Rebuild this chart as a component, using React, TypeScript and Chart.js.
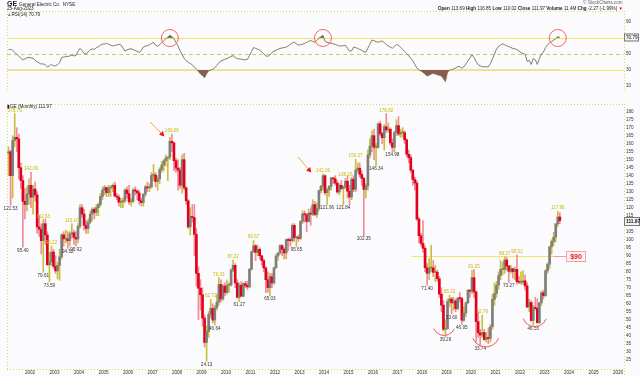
import React, { useEffect, useRef } from 'react';
import { Chart, registerables } from 'chart.js';

Chart.register(...registerables);

const FONT = '"Liberation Sans", Arial, sans-serif';
const FRAME = '#e4da4c';
const BG = '#fbfbfd';

// ---- data (monthly, Feb 2001 .. Aug 2023) ----
const START_YEAR = 2001;
const START_MONTH = 2;
const firstOpen = 154;

const closes = [
  155, 140, 162, 164, 163, 145, 137, 124, 122, 128.6, 134,
  126.6, 131.6, 128, 108, 106.5, 99.4, 110, 103, 84.3, 86.2, 92.3, 83.4,
  80.5, 84, 89.3, 103, 100.5, 100.5, 99.4, 103.6, 104.3, 101.5, 100.4, 108.4,
  120, 116, 109, 107, 111, 116, 119, 117, 120, 122, 127, 131,
  132.6, 129.4, 132.3, 132.8, 134, 127.3, 126.6, 123.4, 123.6, 124.4, 131, 128.8,
  123.6, 124, 131.1, 130.4, 129.2, 124.3, 123.2, 128.4, 133, 132.4, 133.1, 140.3,
  140.4, 136.3, 138, 143.8, 146.6, 149.3, 151, 151.6, 161.5, 160.5, 149.4, 144.7,
  143.4, 134, 150, 132.4, 124.3, 108, 114.5, 113.8, 103.3, 79, 69.7, 65.6,
  51, 35.8, 42.6, 53.2, 57, 49.8, 57.4, 61, 72, 63, 71, 67,
  71.6, 71.7, 81, 84, 73, 64, 71.6, 64.7, 72.6, 71.4, 70.5, 81.5,
  92.5, 96.2, 92, 94, 90, 87, 82.4, 75, 70, 76.9, 73, 82.4,
  89.8, 91.7, 96.3, 94, 91.7, 100, 99.5, 99.4, 109, 101.3, 101.5, 100.8,
  111.4, 116, 115.6, 111.4, 116.6, 116, 121.9, 115.7, 119.5, 130.7, 133.4, 140,
  129.4, 131.3, 133.3, 138.5, 138, 135.4, 129.8, 134, 132, 133, 136.6, 130.3,
  126.7, 137.8, 131.5, 143.5, 144.7, 140.8, 138.3, 131.4, 133.6, 153, 158.5, 165,
  157.7, 157.7, 172.4, 166.4, 163.7, 170.6, 168.6, 169, 160.5, 157.7, 167, 171.3,
  166, 166.9, 166.9, 162.4, 153.4, 151.3, 143.4, 137.6, 135.4, 112.9, 102.5, 97.7,
  94.6, 82.5, 79, 82.3, 82.4, 79.6, 79.7, 75.6, 66, 59.1, 44, 44.5,
  61.4, 62.9, 60.5, 61.7, 56.9, 63.5, 63.2, 49.7, 54.2, 60.6, 68.4, 67.8,
  76.3, 67.3, 48.8, 41.8, 40.4, 42, 37.6, 39, 38.3, 45.6, 62.7, 66.4,
  71.6, 77.6, 81.4, 81.4, 87.3, 83.6, 80.2, 81.9, 80, 81.5, 73.8, 73.4,
  73.4, 74.3, 71.1, 58, 60.8, 49.5, 57.5, 57.1, 48.1, 60.5, 66.8, 65.1,
  80.5, 84.7, 95.6, 98.9, 101.6, 109.9, 114.2, 111.97,
];

const highs = [
  158, 156, 165, 178.8, 170, 166, 148, 140, 132, 133, 138,
  142.1, 134, 136, 130, 115, 110, 112.6, 113, 105, 92, 96.2, 94,
  90, 86, 94, 104, 105, 106, 105, 105, 110.1, 106, 105, 110,
  122, 122, 119, 112, 113, 118, 120, 120, 122, 123, 129, 133,
  134, 133, 134, 134, 135, 136, 129, 128, 126, 126, 132, 133,
  134, 126, 132, 133, 131, 131, 126, 129, 134, 136, 135, 142,
  147, 142, 140, 145, 149, 150, 153, 152, 164, 166, 161, 151,
  150, 145, 153, 154, 133, 125, 120, 122, 122, 107, 83, 75,
  70, 53, 46, 55, 62.7, 60, 59, 66, 76.3, 75, 72, 73,
  75, 73, 82, 87.2, 85, 75, 73, 74, 73, 74, 74, 82,
  93, 99.5, 97, 96.5, 95, 90, 88, 83, 80, 79, 79, 83,
  91, 92, 97, 97, 95, 100.5, 101, 101, 110, 110, 102, 103,
  112, 118, 118, 116.5, 119, 120, 125, 124, 123, 131, 134, 141,
  140.5, 132, 134, 139, 139, 140, 137, 135, 137, 133.5, 138.3, 139.8,
  134, 139, 140, 150.3, 148, 148, 143, 139, 135, 156, 163, 168,
  169, 160, 173, 174, 167, 172, 178.8, 173, 170, 163, 168, 175,
  177, 169, 170, 168, 163, 156, 153, 144, 139, 137, 114, 104,
  112, 96, 85, 88, 96.6, 87, 84, 81, 77, 70, 62, 50,
  63, 65.2, 64, 64, 63, 64, 67, 64, 58, 61, 69, 69,
  80.9, 81.3, 68, 55, 44, 52.8, 44, 42, 45, 47, 66, 73,
  74, 80, 87, 86, 89.4, 89, 84, 84, 82, 83, 90.5, 77,
  80, 80.5, 78, 73, 63, 62, 59, 64, 63, 61, 68, 68.5,
  81.4, 85.6, 96, 100, 104.6, 110.1, 117.9, 116.85,
];

const lows = [
  140, 121.5, 126, 158, 155, 138, 132, 95.4, 113, 118, 122,
  120, 116, 124, 104, 102, 91, 79.6, 97, 84, 73.6, 84, 82,
  79, 75.5, 74.6, 88, 96, 98, 94.5, 96, 101, 97, 95.9, 98,
  107, 114, 106, 104, 104, 110, 112, 113, 115, 115, 121, 125,
  128, 127, 127, 127, 130, 127, 125, 121, 120, 120, 123, 126,
  122, 121, 123, 128, 125, 122, 121, 121, 127, 130, 130, 132,
  137, 133, 131, 135, 142, 143, 146, 137, 150, 155, 143, 142,
  131, 132, 129, 131, 122, 107, 103, 111, 90, 71, 50, 56,
  46, 33, 24.1, 39, 51, 48, 46.6, 56, 59, 61, 62, 65,
  66, 67, 71, 80, 70, 63.5, 61.3, 64.5, 64.2, 70, 69, 70,
  81, 92, 87, 90, 88, 84, 80, 67, 67, 65, 70, 72,
  82, 87, 91, 90, 88, 88, 93, 96, 98.5, 99, 95.6, 99,
  100, 110, 111, 105, 111, 109, 115, 115, 114, 118, 129, 131,
  128, 122, 127, 131, 135, 134, 129, 128, 131, 121.8, 132, 126,
  122, 125, 130, 130, 142, 139, 134, 102.4, 126, 131, 151, 155,
  150, 146.3, 157, 165, 160, 156, 167, 167, 159, 155, 155, 165,
  165, 164, 164, 160, 152, 148, 142, 134, 131, 112, 98, 96,
  92, 80, 71.4, 75, 80, 77, 74, 74, 64, 55, 43, 39.3,
  44, 58, 53.6, 56, 55, 56, 61, 47, 49, 52, 60, 64,
  66.5, 64, 36, 39, 33.7, 39, 37, 36, 35, 36, 44, 59,
  64, 69, 75, 78, 79, 81, 73.3, 79, 76, 75, 72, 72.5,
  72, 72, 68.5, 57.5, 55, 49, 46.5, 56, 48, 47.5, 59, 63,
  64.5, 79, 82, 91, 96.4, 98.6, 108, 110.02,
];

const rsi14 = [
  55.4, 55.7, 54.6, 52.1, 49.5, 47.1, 44.7, 42.3, 43.6, 45.2, 45.6,
  45.0, 44.3, 42.1, 40.0, 38.5, 37.1, 37.5, 36.0, 33.5, 34.8, 36.8, 34.9,
  35.0, 36.5, 38.8, 45.6, 46.0, 46.5, 46.7, 47.4, 48.5, 47.5, 47.8, 53.0,
  57.0, 54.0, 50.4, 49.8, 52.5, 55.3, 56.4, 55.8, 57.8, 58.9, 60.8, 62.4,
  62.3, 63.3, 62.0, 61.0, 59.9, 60.5, 61.3, 62.0, 61.3, 57.4, 53.5, 55.0,
  56.0, 56.5, 55.4, 54.3, 53.2, 52.0, 54.2, 58.7, 59.6, 60.4, 61.5, 63.0,
  64.4, 61.0, 59.5, 61.8, 64.2, 66.5, 68.9, 71.2, 73.5, 71.9, 69.1, 64.5,
  60.0, 53.8, 49.0, 44.5, 41.4, 39.4, 37.9, 36.2, 33.5, 30.7, 27.7, 24.7,
  22.5, 20.0, 25.1, 28.7, 29.8, 30.6, 32.5, 35.4, 38.9, 41.0, 42.1, 43.4,
  44.1, 45.6, 46.8, 47.8, 45.5, 44.1, 43.7, 43.3, 42.9, 42.5, 43.1, 47.9,
  53.0, 57.9, 57.0, 55.9, 54.8, 52.6, 50.0, 47.5, 46.9, 48.8, 51.6, 53.4,
  54.6, 55.7, 56.9, 57.4, 58.0, 58.6, 60.1, 62.0, 63.9, 64.6, 62.8, 61.0,
  61.5, 62.2, 63.1, 64.5, 65.8, 66.9, 65.6, 64.8, 66.8, 70.0, 71.5, 73.5,
  66.0, 64.4, 63.9, 63.4, 62.7, 61.8, 60.9, 59.9, 59.9, 60.4, 60.8, 57.3,
  53.4, 53.7, 58.5, 57.9, 56.8, 55.6, 54.5, 52.8, 52.2, 57.2, 62.5, 67.4,
  66.8, 65.3, 64.7, 65.5, 66.3, 64.2, 61.9, 60.0, 58.5, 57.1, 59.4, 61.6,
  61.0, 58.3, 55.6, 53.0, 50.5, 47.5, 44.6, 41.3, 36.7, 32.2, 30.0, 28.4,
  26.7, 24.5, 22.1, 23.1, 24.6, 25.3, 24.6, 23.7, 23.0, 22.2, 18.5, 15.2,
  27.0, 29.4, 30.2, 31.0, 32.3, 33.9, 34.0, 31.8, 33.7, 37.4, 41.1, 45.0,
  48.7, 45.5, 40.3, 36.3, 35.1, 33.8, 33.7, 33.7, 33.7, 37.7, 43.8, 49.7,
  56.0, 59.6, 61.1, 62.6, 61.4, 60.2, 59.1, 58.0, 56.9, 56.2, 55.5, 53.7,
  51.5, 50.5, 49.6, 40.5, 42.0, 36.7, 44.1, 42.5, 36.7, 44.5, 49.5, 52.5,
  58.0, 61.5, 64.0, 65.7, 67.3, 69.1, 71.5, 70.79,
];

const yearTicks = [2002, 2003, 2004, 2005, 2006, 2007, 2008, 2009, 2010, 2011, 2012, 2013, 2014,
  2015, 2016, 2017, 2018, 2019, 2020, 2021, 2022, 2023, 2024, 2025, 2026];
const priceTicks = [25, 30, 35, 40, 45, 50, 55, 60, 65, 70, 75, 80, 85, 90, 95, 100, 105, 110,
  115, 120, 125, 130, 135, 140, 145, 150, 155, 160, 165, 170, 175, 180];
const rsiTicks = [10, 30, 50, 70, 90];
const rsiLevels = [30, 50, 70];
const lastClose = 111.97;
const lastRsi = 70.79;

const highLabels: [string, string][] = [
  ['2001-05', '178.79'], ['2002-01', '142.09'], ['2002-07', '112.63'], ['2002-11', '96.22'],
  ['2003-09', '110.10'], ['2007-10', '166.06'], ['2009-05', '62.72'], ['2009-09', '76.33'],
  ['2010-04', '87.22'], ['2011-02', '99.57'], ['2013-12', '141.06'], ['2014-11', '138.26'],
  ['2015-04', '150.27'], ['2016-07', '178.82'], ['2019-02', '65.22'], ['2020-02', '81.25'],
  ['2020-06', '52.76'], ['2021-05', '89.37'], ['2021-11', '90.52'], ['2023-07', '117.96'],
];
const lowLabels: [string, string][] = [
  ['2001-03', '121.53'], ['2001-09', '95.40'], ['2002-07', '79.61'], ['2002-10', '73.59'],
  ['2003-07', '94.52'], ['2003-11', '95.92'], ['2009-03', '24.13'], ['2009-07', '46.64'],
  ['2010-07', '61.27'], ['2011-10', '65.03'], ['2012-11', '95.65'], ['2014-02', '121.96'],
  ['2014-10', '121.84'], ['2015-08', '102.35'], ['2016-02', '146.34'], ['2016-10', '154.98'],
  ['2018-03', '71.40'], ['2018-12', '39.26'], ['2019-03', '53.60'], ['2019-08', '46.95'],
  ['2020-05', '33.74'], ['2021-07', '73.27'], ['2022-07', '46.55'],
];

// support line ($90) and annotations in data units (year, price)
const supportLevel = 90;
const supportFrom = 2017.6;
const supportTo = 2023.35;
const supportBoxAt = 2023.88;
const arrows: [number, number, number, number][] = [
  [2006.9, 173.6, 2007.43, 165.4],
  [2012.94, 151.7, 2013.43, 142.9],
];
const lowArcs: [number, number, number][] = [
  [2018.9, 47, 11],
  [2020.6, 41.7, 14],
  [2022.6, 53.5, 12.5],
];
const rsiCircles = ['2007-09', '2013-12', '2023-07'];

const X_MIN = 2001.061;
const X_MAX = 2026.245;

const xOf = (i: number) => START_YEAR + (START_MONTH - 1 + i) / 12 + 1 / 24;
const idx = (ym: string) => {
  const [y, m] = ym.split('-').map(Number);
  return (y - START_YEAR) * 12 + (m - 1) - (START_MONTH - 1);
};

const tickFont = { size: 4.6, family: FONT };

function xScale(display: boolean) {
  return {
    type: 'linear',
    min: X_MIN,
    max: X_MAX,
    offset: false,
    display,
    grid: { display: false, drawTicks: false },
    border: { display: false },
    afterBuildTicks: (s: any) => { s.ticks = yearTicks.map((v) => ({ value: v })); },
    afterFit: (s: any) => { s.height = 7; },
    ticks: {
      font: tickFont, color: '#333', padding: 1, maxRotation: 0, autoSkip: false,
      callback: (v: any) => String(v),
    },
  };
}

function seg(ctx: any, x1: number, y1: number, x2: number, y2: number) {
  ctx.beginPath();
  ctx.moveTo(x1, y1);
  ctx.lineTo(x2, y2);
  ctx.stroke();
}

const priceOverlay = {
  id: 'priceOverlay',
  beforeDatasetsDraw(chart: any) {
    const { ctx, chartArea: a, scales: { x, y } } = chart;
    ctx.save();
    ctx.strokeStyle = FRAME;
    ctx.lineWidth = 1;
    ctx.setLineDash([1, 2]);
    seg(ctx, a.left, a.top + 0.5, a.right, a.top + 0.5);
    seg(ctx, a.left + 0.5, a.top, a.left + 0.5, a.bottom);
    seg(ctx, a.right + 0.5, a.top, a.right + 0.5, a.bottom + 7);
    seg(ctx, a.left, a.bottom + 0.5, a.right, a.bottom + 0.5);
    const sy = Math.round(y.getPixelForValue(supportLevel)) + 0.5;
    ctx.setLineDash([]);
    ctx.strokeStyle = '#efe56a';
    seg(ctx, x.getPixelForValue(supportFrom), sy, x.getPixelForValue(supportTo), sy);
    ctx.restore();
  },
  afterDatasetsDraw(chart: any) {
    const { ctx, scales: { x, y } } = chart;
    ctx.save();
    const sy = Math.round(y.getPixelForValue(supportLevel)) + 0.5;
    const bx = x.getPixelForValue(supportBoxAt);
    ctx.strokeStyle = '#f2a0a8';
    ctx.lineWidth = 1;
    seg(ctx, x.getPixelForValue(supportTo), sy, bx, sy);
    ctx.fillStyle = '#fff6f4';
    ctx.fillRect(bx, sy - 5, 19, 10);
    ctx.strokeRect(bx + 0.5, sy - 5, 19, 10);
    ctx.fillStyle = '#e3192b';
    ctx.font = `bold 7px ${FONT}`;
    ctx.textAlign = 'center';
    ctx.textBaseline = 'middle';
    ctx.fillText('$90', bx + 10, sy + 0.5);

    ctx.font = `4.6px ${FONT}`;
    ctx.textAlign = 'center';
    ctx.textBaseline = 'bottom';
    ctx.fillStyle = '#c9b800';
    for (const [ym, text] of highLabels) {
      const i = idx(ym);
      ctx.fillText(text, x.getPixelForValue(xOf(i)), y.getPixelForValue(highs[i]) - 1);
    }
    ctx.textBaseline = 'top';
    ctx.fillStyle = '#333';
    for (const [ym, text] of lowLabels) {
      const i = idx(ym);
      ctx.fillText(text, x.getPixelForValue(xOf(i)), y.getPixelForValue(lows[i]) + 1);
    }

    for (const [t1, v1, t2, v2] of arrows) {
      const x1 = x.getPixelForValue(t1), y1 = y.getPixelForValue(v1);
      const x2 = x.getPixelForValue(t2), y2 = y.getPixelForValue(v2);
      ctx.strokeStyle = '#f3a640';
      ctx.lineWidth = 1;
      seg(ctx, x1, y1, x2, y2);
      const ang = Math.atan2(y2 - y1, x2 - x1);
      ctx.fillStyle = '#e8141c';
      ctx.beginPath();
      ctx.moveTo(x2 + Math.cos(ang) * 2, y2 + Math.sin(ang) * 2);
      ctx.lineTo(x2 + Math.cos(ang + 2.4) * 4, y2 + Math.sin(ang + 2.4) * 4);
      ctx.lineTo(x2 + Math.cos(ang - 2.4) * 4, y2 + Math.sin(ang - 2.4) * 4);
      ctx.closePath();
      ctx.fill();
    }

    ctx.strokeStyle = '#ef5a5a';
    ctx.lineWidth = 1;
    for (const [t, v, r] of lowArcs) {
      ctx.beginPath();
      ctx.arc(x.getPixelForValue(t), y.getPixelForValue(v), r, 0.12 * Math.PI, 0.88 * Math.PI);
      ctx.stroke();
    }
    ctx.restore();
  },
  afterDraw(chart: any) {
    const { ctx, chartArea: a, scales: { y } } = chart;
    const py = Math.round(y.getPixelForValue(lastClose));
    ctx.save();
    ctx.fillStyle = '#f2f2f2';
    ctx.fillRect(a.right, py - 4, 16, 9);
    ctx.strokeStyle = '#777';
    ctx.lineWidth = 1;
    ctx.strokeRect(a.right + 0.5, py - 3.5, 15, 8);
    ctx.fillStyle = '#111';
    ctx.font = `bold 4.8px ${FONT}`;
    ctx.textAlign = 'left';
    ctx.textBaseline = 'middle';
    ctx.fillText(String(lastClose), a.right + 2, py + 0.5);
    ctx.restore();
  },
};

const rsiOverlay = {
  id: 'rsiOverlay',
  beforeDatasetsDraw(chart: any) {
    const { ctx, chartArea: a, scales: { y } } = chart;
    ctx.save();
    ctx.strokeStyle = FRAME;
    ctx.lineWidth = 1;
    ctx.setLineDash([1, 2]);
    seg(ctx, a.left, a.top + 0.5, a.right, a.top + 0.5);
    seg(ctx, a.left + 0.5, a.top, a.left + 0.5, a.bottom);
    seg(ctx, a.right + 0.5, a.top, a.right + 0.5, a.bottom);
    for (const lv of rsiLevels) {
      const py = Math.round(y.getPixelForValue(lv)) + 0.5;
      if (lv === 50) {
        ctx.setLineDash([4, 3]);
        ctx.strokeStyle = '#d6c84a';
      } else {
        ctx.setLineDash([]);
        ctx.strokeStyle = '#f0e66e';
      }
      seg(ctx, a.left, py, a.right, py);
    }
    ctx.restore();
  },
  afterDatasetsDraw(chart: any) {
    const { ctx, scales: { x, y } } = chart;
    ctx.save();
    ctx.strokeStyle = '#f26a5a';
    ctx.lineWidth = 1;
    for (const ym of rsiCircles) {
      ctx.beginPath();
      ctx.arc(x.getPixelForValue(xOf(idx(ym))), y.getPixelForValue(70), 8.5, 0, Math.PI * 2);
      ctx.stroke();
    }
    ctx.restore();
  },
  afterDraw(chart: any) {
    const { ctx, chartArea: a, scales: { y } } = chart;
    const py = Math.round(y.getPixelForValue(lastRsi));
    ctx.save();
    ctx.fillStyle = '#f2f2f2';
    ctx.fillRect(a.right, py - 3.5, 15, 8);
    ctx.strokeStyle = '#777';
    ctx.lineWidth = 1;
    ctx.strokeRect(a.right + 0.5, py - 3, 14, 7);
    ctx.fillStyle = '#111';
    ctx.font = `4.6px ${FONT}`;
    ctx.textAlign = 'left';
    ctx.textBaseline = 'middle';
    ctx.fillText(String(lastRsi), a.right + 2, py + 0.5);
    ctx.restore();
  },
};

export default function App() {
  const rsiRef = useRef<HTMLCanvasElement>(null);
  const priceRef = useRef<HTMLCanvasElement>(null);

  useEffect(() => {
    const opens = closes.map((c, i) => (i === 0 ? firstOpen : closes[i - 1]));
    const up = closes.map((c, i) => c >= opens[i]);
    const wickData = closes.map((c, i) => ({ x: xOf(i), y: [lows[i], highs[i]] }));
    const bodyData = closes.map((c, i) => ({ x: xOf(i), y: [opens[i], c] }));
    const rsiData = rsi14.map((v, i) => ({ x: xOf(i), y: v }));

    const rsiChart = new Chart(rsiRef.current as HTMLCanvasElement, {
      type: 'line',
      data: {
        datasets: [
          {
            data: rsiData,
            borderColor: '#7d7d68',
            borderWidth: 1,
            pointRadius: 0,
            tension: 0,
            fill: { target: { value: 30 }, above: 'rgba(0,0,0,0)', below: '#8b5a4b' },
          },
          {
            data: rsiData,
            borderColor: 'rgba(0,0,0,0)',
            borderWidth: 0,
            pointRadius: 0,
            tension: 0,
            fill: { target: { value: 70 }, above: '#7a6a5a', below: 'rgba(0,0,0,0)' },
          },
        ],
      } as any,
      options: {
        responsive: false,
        animation: false,
        events: [],
        layout: { padding: { left: 7, top: 11, right: 0, bottom: 277 } },
        plugins: { legend: { display: false }, tooltip: { enabled: false } },
        scales: {
          x: xScale(false),
          y: {
            type: 'linear',
            position: 'right',
            min: 2,
            max: 104,
            grid: { display: false, drawTicks: false },
            border: { display: false },
            afterBuildTicks: (s: any) => { s.ticks = rsiTicks.map((v) => ({ value: v })); },
            afterFit: (s: any) => { s.width = 16; },
            ticks: { font: tickFont, color: '#333', padding: 2, callback: (v: any) => String(v) },
          },
        },
      } as any,
      plugins: [rsiOverlay],
    });

    const priceChart = new Chart(priceRef.current as HTMLCanvasElement, {
      type: 'bar',
      data: {
        datasets: [
          {
            data: wickData,
            backgroundColor: up.map((u) => (u ? '#c8bf3c' : '#f08c9a')),
            barThickness: 1,
            grouped: false,
            order: 2,
          },
          {
            data: bodyData,
            backgroundColor: up.map((u) => (u ? '#7e7e7e' : '#e3001b')),
            barThickness: 2,
            minBarLength: 1,
            grouped: false,
            order: 1,
          },
        ],
      } as any,
      options: {
        responsive: false,
        animation: false,
        events: [],
        layout: { padding: { left: 7, top: 104, right: 0, bottom: 0 } },
        plugins: { legend: { display: false }, tooltip: { enabled: false } },
        scales: {
          x: xScale(true),
          y: {
            type: 'linear',
            position: 'right',
            min: 19.2,
            max: 184.8,
            grid: { display: false, drawTicks: false },
            border: { display: false },
            afterBuildTicks: (s: any) => { s.ticks = priceTicks.map((v) => ({ value: v })); },
            afterFit: (s: any) => { s.width = 16; },
            ticks: { font: tickFont, color: '#333', padding: 2, callback: (v: any) => String(v) },
          },
        },
      } as any,
      plugins: [priceOverlay],
    });

    return () => {
      rsiChart.destroy();
      priceChart.destroy();
    };
  }, []);

  const txt: React.CSSProperties = { position: 'absolute', whiteSpace: 'nowrap', lineHeight: 1 };
  return (
    <div style={{ position: 'fixed', left: 0, top: 0, width: 640, height: 376, background: BG, overflow: 'hidden', fontFamily: FONT, color: '#222' }}>
      <canvas ref={rsiRef} width={640} height={376} style={{ position: 'absolute', left: 0, top: 0 }} />
      <canvas ref={priceRef} width={640} height={376} style={{ position: 'absolute', left: 0, top: 0 }} />
      <div style={{ ...txt, left: 7, top: 0, fontSize: 7, fontWeight: 700 }}>
        GE <span style={{ fontSize: 4.6, fontWeight: 400 }}>General Electric Co.&nbsp; NYSE</span>
      </div>
      <div style={{ ...txt, left: 7, top: 7, fontSize: 4.6 }}>25-Aug-2023</div>
      <div style={{ ...txt, left: 7, top: 13, fontSize: 4.6 }}>
        <span style={{ color: '#7d7d68' }}>▲</span>RSI(14) 70.79
      </div>
      <div style={{ ...txt, left: 583, top: 1, fontSize: 4.6, color: '#666' }}>© StockCharts.com</div>
      <div style={{ ...txt, right: 17, top: 7, fontSize: 4.6 }}>
        <b>Open</b> 113.69 <b>High</b> 116.85 <b>Low</b> 110.02 <b>Close</b> 111.97 <b>Volume</b> 11.4M <b>Chg</b> -2.27 (-1.99%) <span style={{ color: '#e3001b' }}>▼</span>
      </div>
      <div style={{ ...txt, left: 7, top: 105, fontSize: 4.6 }}>
        ▮GE (Monthly) 111.97
      </div>
    </div>
  );
}
